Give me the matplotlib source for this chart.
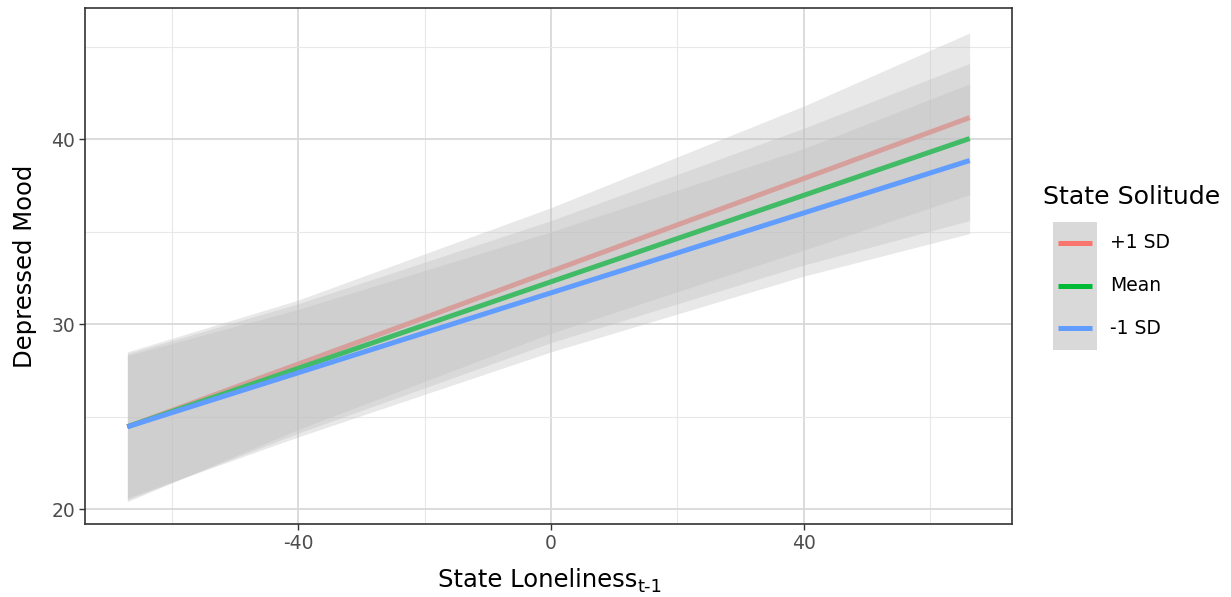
import numpy as np
import matplotlib
matplotlib.use('Agg')
import matplotlib.pyplot as plt
from matplotlib.patches import Rectangle
from matplotlib.lines import Line2D

plt.rcParams['axes.unicode_minus'] = False

# group names / colours (ggplot default hues)
groups = ['+1 SD', 'Mean', '-1 SD']
colors = ['#F8766D', '#00BA38', '#619CFF']

# fitted lines (start / end of State Loneliness range)
line_x = [-67, 66.2]
line_y = {
    '+1 SD': [24.45, 41.17],
    'Mean': [24.45, 40.04],
    '-1 SD': [24.45, 38.85],
}

band_x = [-67, -40, 0, 40, 66.2]
band_lo = {
    '+1 SD': [20.4, 24.3, 29.5, 34.0, 37.0],
    'Mean': [20.5, 24.1, 29.0, 33.2, 35.6],
    '-1 SD': [20.6, 23.9, 28.5, 32.6, 34.9],
}
band_hi = {
    '+1 SD': [28.5, 31.3, 36.3, 41.8, 45.75],
    'Mean': [28.4, 31.1, 35.6, 40.6, 44.1],
    '-1 SD': [28.3, 30.8, 35.0, 39.5, 43.0],
}

W, H = 1231, 597
fig = plt.figure(figsize=(W / 100, H / 100), dpi=100)
ax = fig.add_axes([85 / W, 73 / H, 927 / W, 516 / H])

z = 2
for g, c in zip(groups, colors):
    ax.fill_between(band_x, band_lo[g], band_hi[g], color='#BFBFBF', alpha=0.35,
                    linewidth=0, zorder=z)
    ax.plot(line_x, line_y[g], color=c, lw=3.6, solid_capstyle='butt', zorder=z + 1)
    z += 2

ax.set_xlim(-73.7, 72.9)
ax.set_ylim(19.19, 47.1)
ax.set_xticks([-40, 0, 40])
ax.set_yticks([20, 30, 40])
ax.set_xticks([-60, -20, 20, 60], minor=True)
ax.set_yticks([25, 35, 45], minor=True)
ax.grid(True, which='major', color='#D9D9D9', lw=1.3, zorder=0)
ax.grid(True, which='minor', color='#E8E8E8', lw=0.8, zorder=0)
ax.set_axisbelow(True)
ax.tick_params(which='major', length=4, width=1, color='#333333',
               labelsize=13.5, labelcolor='#4D4D4D', pad=3)
ax.tick_params(which='minor', length=0)
for s in ax.spines.values():
    s.set_color('#333333')
    s.set_linewidth(1.2)

ax.set_ylabel('Depressed Mood', fontsize=17.5, color='black')
ax.yaxis.set_label_coords(-0.052, 0.5)

# x title with subscript
fig.text(438 / W, 1 - 587 / H, 'State Loneliness', fontsize=17.5, ha='left', va='baseline')
fig.text(638 / W, 1 - 592 / H, 't-1', fontsize=13, ha='left', va='baseline')

# legend
fig.text(1043 / W, 1 - 197 / H, 'State Solitude', fontsize=18.2, ha='left', va='center')
fig.add_artist(Rectangle((1053 / W, 1 - 350 / H), 44 / W, 128 / H,
                         transform=fig.transFigure, color='#D9D9D9', lw=0))
for i, (g, c) in enumerate(zip(groups, colors)):
    yy = 1 - (243 + i * 42.5) / H
    fig.add_artist(Line2D([1058 / W, 1092 / W], [yy, yy], transform=fig.transFigure,
                          color=c, lw=3.6, solid_capstyle='butt'))
    fig.text(1110 / W, yy, g, fontsize=13.5, ha='left', va='center')

fig.savefig('out.png', dpi=100)
